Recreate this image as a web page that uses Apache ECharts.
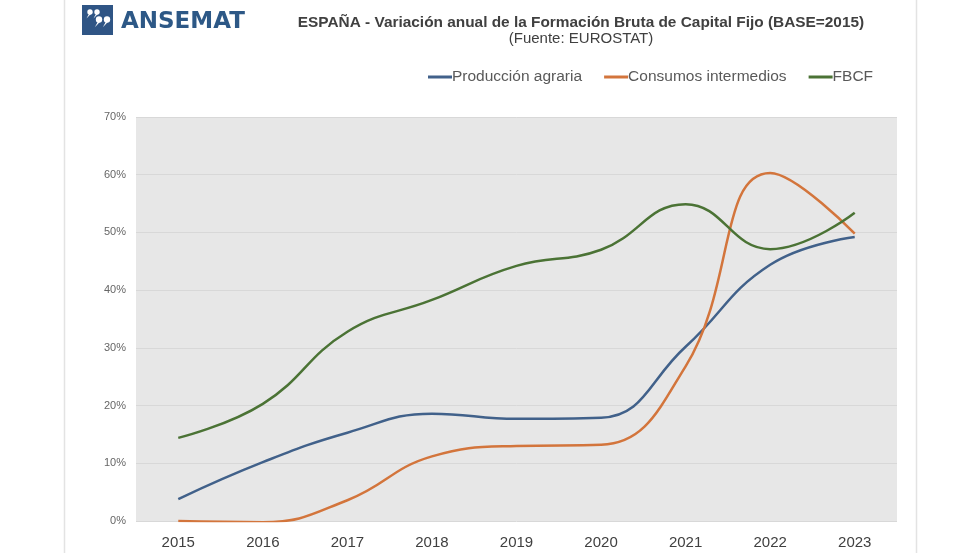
<!DOCTYPE html>
<html><head><meta charset="utf-8">
<script src="https://cdn.jsdelivr.net/npm/echarts@6/dist/echarts.min.js"></script>
<style>html,body{margin:0;padding:0;background:#fff}#c{width:980px;height:553px}</style>
</head><body><div id="c"></div>
<script>
var years = ['2015','2016','2017','2018','2019','2020','2021','2022','2023'];
var produccion = [3.8, 10.2, 15.3, 18.6, 17.7, 17.9, 30.2, 44.4, 49.2];
var consumos = [0.0, -0.2, 3.6, 11.2, 13.0, 13.2, 26.8, 60.3, 49.8];
var fbcf = [14.4, 20.3, 32.8, 38.3, 44.2, 47.0, 54.9, 47.1, 53.4];
var yTicks = [0, 10, 20, 30, 40, 50, 60, 70];

var chart = echarts.init(document.getElementById('c'));
function ser(name, data, color) {
  return {name: name, type: 'line', data: data, smooth: 0.45, symbol: 'none',
    lineStyle: {width: 2.5, color: color}, itemStyle: {color: color}};
}
function comma(cx, cy, r) {
  return [
    {type: 'circle', shape: {cx: cx, cy: cy, r: r}, style: {fill: '#ffffff'}},
    {type: 'polygon', shape: {points: [[cx - r * 0.2, cy + r * 0.4], [cx + r, cy], [cx - r * 1.3, cy + r * 2.4]]}, style: {fill: '#ffffff'}}
  ];
}
var logo = [{type: 'rect', shape: {x: 82, y: 5, width: 31, height: 30}, style: {fill: '#2f5585'}}]
  .concat(comma(90, 12, 2.7), comma(97, 12, 2.7), comma(99, 19.5, 3.2), comma(107, 19.5, 3.2));
chart.setOption({
  backgroundColor: '#ffffff',
  animation: false,
  graphic: [
    {type: 'line', shape: {x1: 64.5, y1: 0, x2: 64.5, y2: 553}, style: {stroke: '#e3e3e3', lineWidth: 1.5}},
    {type: 'line', shape: {x1: 916.5, y1: 0, x2: 916.5, y2: 553}, style: {stroke: '#e3e3e3', lineWidth: 1.5}}
  ].concat(logo, [
    {type: 'text', x: 121, y: 11, style: {text: 'ANSEMAT', fill: '#2d5886', font: 'bold 23px "DejaVu Sans"'}},
    {type: 'text', x: 581, y: 15, style: {text: 'ESPAÑA - Variación anual de la Formación Bruta de Capital Fijo (BASE=2015)', fill: '#404040', font: 'bold 15.4px "Liberation Sans"', textAlign: 'center'}},
    {type: 'text', x: 581, y: 31, style: {text: '(Fuente: EUROSTAT)', fill: '#404040', font: '15px "Liberation Sans"', textAlign: 'center'}}
  ]),
  legend: {
    top: 64, left: 423,
    itemWidth: 24, itemHeight: 3, itemGap: 22, icon: 'rect',
    textStyle: {color: '#595959', fontSize: 15.5, fontFamily: 'Liberation Sans', padding: [0, 0, 0, -5]},
    data: ['Producción agraria', 'Consumos intermedios', 'FBCF']
  },
  grid: {left: 136, right: 83, top: 117, bottom: 32, show: true, backgroundColor: '#e7e7e7', borderWidth: 0},
  xAxis: {
    type: 'category', data: years, boundaryGap: true,
    axisLine: {show: false}, axisTick: {show: false},
    axisLabel: {color: '#404040', fontSize: 15, fontFamily: 'Liberation Sans', margin: 14}
  },
  yAxis: {
    type: 'value', min: 0, max: 70, interval: 10,
    axisLine: {show: false}, axisTick: {show: false},
    splitLine: {lineStyle: {color: '#d8d8d8', width: 1}},
    axisLabel: {color: '#666666', fontSize: 11, fontFamily: 'Liberation Sans', margin: 10,
      formatter: function (v) { return yTicks.indexOf(v) >= 0 ? v + '%' : ''; }}
  },
  series: [
    ser('Producción agraria', produccion, '#41618a'),
    ser('Consumos intermedios', consumos, '#d3753c'),
    ser('FBCF', fbcf, '#4b7335')
  ]
});
</script></body></html>
